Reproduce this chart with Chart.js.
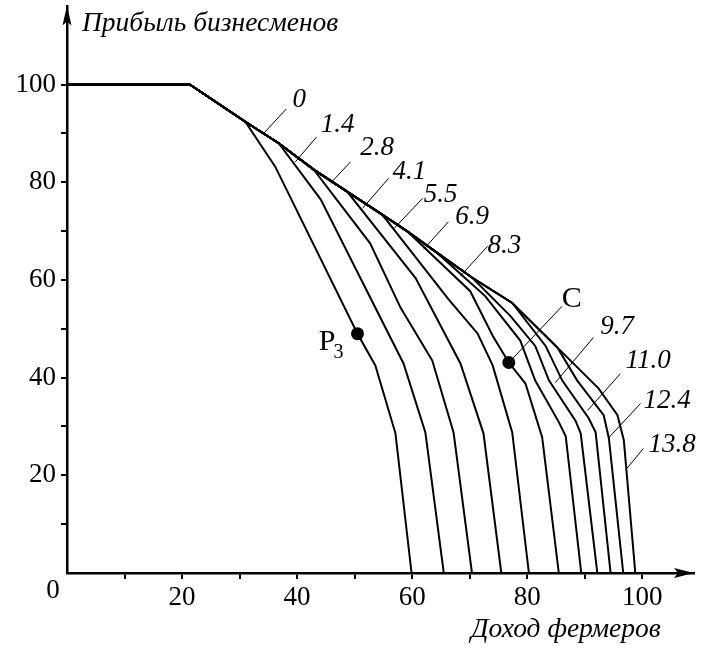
<!DOCTYPE html>
<html>
<head>
<meta charset="utf-8">
<script src="https://cdn.jsdelivr.net/npm/chart.js@4.4.1/dist/chart.umd.min.js"></script>
<style>
  html, body { margin: 0; padding: 0; background: #fff; }
</style>
</head>
<body>
<canvas id="chartPareto" width="702" height="648"></canvas>
<script>
// parameter value of each curve (label text)
const subsidies = ['0', '1.4', '2.8', '4.1', '5.5', '6.9', '8.3', '9.7', '11.0', '12.4', '13.8'];

// common upper boundary shared by all curves (farmers income, businessmen profit)
const ridgeX = [0, 21.4, 31.0, 36.8, 42.9, 48.7, 54.8, 59.1, 64.3, 70.4, 77.4, 85.3];
const ridgeY = [100, 100, 92.4, 88.0, 82.6, 78.1, 73.4, 70.0, 65.6, 60.5, 55.3, 46.1];
// index of the ridge point where each curve leaves it
const branchAt = [2, 3, 4, 5, 6, 7, 8, 9, 10, 11, 11];

// the part of each curve after it leaves the ridge
const tail00 = [[36.2, 83.2], [50.5, 49.0], [53.6, 42.5], [57.1, 28.6], [59.9, 0]];
const tail14 = [[44.1, 76.5], [51.0, 60.4], [58.5, 42.9], [62.3, 28.8], [65.5, 0]];
const tail28 = [[52.7, 67.5], [58.0, 54.3], [63.5, 43.5], [67.2, 28.8], [70.4, 0]];
const tail41 = [[60.6, 60.4], [68.4, 42.9], [72.4, 28.6], [75.5, 0]];
const tail55 = [[66.3, 56.1], [71.4, 49.0], [74.0, 42.5], [77.4, 28.8], [80.3, 0]];
const tail69 = [[70.1, 57.7], [74.0, 48.6], [76.8, 43.1], [79.7, 38.8], [82.6, 27.8], [85.5, 0]];
const tail83 = [[72.7, 56.7], [78.8, 47.6], [81.4, 39.4], [85.5, 30.9], [86.7, 28.0], [89.4, 0]];
const tail97 = [[77.1, 52.6], [81.4, 46.5], [83.8, 39.4], [88.4, 31.2], [89.3, 28.6], [92.2, 0]];
const tail110 = [[83.2, 46.5], [86.1, 39.4], [90.7, 31.7], [91.9, 28.8], [94.5, 0]];
const tail124 = [[88.7, 39.4], [93.3, 32.3], [94.2, 27.6], [96.7, 0]];
const tail138 = [[92.4, 37.8], [95.7, 32.3], [96.8, 27.2], [98.8, 0]];
const tails = [tail00, tail14, tail28, tail41, tail55, tail69, tail83, tail97, tail110, tail124, tail138];

// marked points
const pointP3 = [50.5, 49.0];
const pointC = [76.8, 43.1];

// axis ticks
const xTickValues = [10, 20, 30, 40, 50, 60, 70, 80, 90, 100];
const yTickValues = [10, 20, 30, 40, 50, 60, 70, 80, 90, 100];

// label placement for each curve: text, leader start, leader end (data units)
const callouts = [
  { at: [39.2, 96.9], from: [38.1, 95.0], to: [34.1, 89.9] },
  { at: [44.1, 91.8], from: [43.4, 89.3], to: [39.7, 84.2] },
  { at: [51.0, 87.1], from: [49.3, 84.2], to: [45.8, 79.8] },
  { at: [56.6, 82.2], from: [55.9, 80.8], to: [51.4, 74.7] },
  { at: [62.0, 77.5], from: [61.8, 76.7], to: [56.9, 70.6] },
  { at: [67.5, 73.0], from: [66.3, 71.9], to: [62.0, 66.3] },
  { at: [73.1, 66.9], from: [73.1, 66.9], to: [68.4, 60.8] },
  { at: [92.7, 50.4], from: [91.5, 48.2], to: [84.9, 39.0] },
  { at: [97.1, 43.5], from: [96.2, 40.8], to: [90.5, 33.3] },
  { at: [100.2, 35.3], from: [99.7, 34.7], to: [94.1, 27.6] },
  { at: [101.1, 26.2], from: [100.2, 25.5], to: [97.4, 21.5] }
];

const serif = '"Liberation Serif", "Times New Roman", serif';

function buildCurve(i) {
  const pts = [];
  for (let k = 0; k <= branchAt[i]; k++) pts.push({ x: ridgeX[k], y: ridgeY[k] });
  tails[i].forEach(p => pts.push({ x: p[0], y: p[1] }));
  return pts;
}

const curveSets = subsidies.map((s, i) => ({
  label: s,
  data: buildCurve(i),
  showLine: true,
  borderColor: '#000',
  borderWidth: 2,
  pointRadius: 0,
  tension: 0,
  fill: false
}));

const dotSet = {
  label: 'points',
  data: [{ x: pointP3[0], y: pointP3[1] }, { x: pointC[0], y: pointC[1] }],
  showLine: false,
  pointRadius: 6.5,
  pointBackgroundColor: '#000',
  pointBorderWidth: 0
};

const tickColor = ctx => (ctx.tick && ctx.tick.value > 0 && ctx.tick.value <= 100) ? '#000' : 'rgba(0,0,0,0)';

const extras = {
  id: 'extras',
  afterDatasetsDraw(chart) {
    const c = chart.ctx;
    const xs = chart.scales.x, ys = chart.scales.y;
    const area = chart.chartArea;
    const ox = xs.getPixelForValue(0), oy = ys.getPixelForValue(0);
    c.save();
    c.fillStyle = '#000';
    c.strokeStyle = '#000';

    // arrow heads
    const top = area.top - 1;
    c.beginPath();
    c.moveTo(ox, top);
    c.lineTo(ox - 4.5, top + 20);
    c.lineTo(ox, top + 16);
    c.lineTo(ox + 4.5, top + 20);
    c.closePath();
    c.fill();
    const right = area.right;
    c.beginPath();
    c.moveTo(right, oy);
    c.lineTo(right - 20, oy - 5);
    c.lineTo(right - 16, oy);
    c.lineTo(right - 20, oy + 5);
    c.closePath();
    c.fill();

    // origin label and axis titles
    c.font = '27px ' + serif;
    c.textAlign = 'center';
    c.textBaseline = 'middle';
    c.fillText('0', ox - 14, oy + 18);
    c.font = 'italic 27.5px ' + serif;
    c.textAlign = 'left';
    c.fillText('Прибыль бизнесменов', ox + 15, 24);
    c.fillText('Доход фермеров', 471, 630);

    // curve labels with leader lines
    c.font = 'italic 27px ' + serif;
    c.lineWidth = 1;
    callouts.forEach((o, i) => {
      c.beginPath();
      c.moveTo(xs.getPixelForValue(o.from[0]), ys.getPixelForValue(o.from[1]));
      c.lineTo(xs.getPixelForValue(o.to[0]), ys.getPixelForValue(o.to[1]));
      c.stroke();
      c.fillText(subsidies[i], xs.getPixelForValue(o.at[0]), ys.getPixelForValue(o.at[1]));
    });

    // P3 and C
    const px = xs.getPixelForValue(pointP3[0]), py = ys.getPixelForValue(pointP3[1]);
    c.font = '30px ' + serif;
    c.textAlign = 'right';
    c.fillText('P', px - 22, py + 8);
    c.font = '20px ' + serif;
    c.textAlign = 'left';
    c.fillText('3', px - 24, py + 19);

    const cx = xs.getPixelForValue(pointC[0]), cy = ys.getPixelForValue(pointC[1]);
    c.beginPath();
    c.moveTo(cx + 2, cy - 2);
    c.lineTo(cx + 53, cy - 56);
    c.stroke();
    c.font = '30px ' + serif;
    c.fillText('C', cx + 53, cy - 63);
    c.restore();
  }
};

new Chart(document.getElementById('chartPareto').getContext('2d'), {
  type: 'scatter',
  data: { datasets: curveSets.concat([dotSet]) },
  options: {
    responsive: false,
    animation: false,
    layout: { padding: { top: 4, right: 8, left: 0, bottom: 0 } },
    plugins: { legend: { display: false }, tooltip: { enabled: false } },
    scales: {
      x: {
        type: 'linear',
        min: 0,
        max: 109,
        afterFit: scale => { scale.height = 75; scale.paddingLeft = 0; scale.paddingRight = 0; },
        afterBuildTicks: scale => { scale.ticks = [0].concat(xTickValues).map(v => ({ value: v })); },
        border: { color: '#000', width: 2.5 },
        grid: { drawOnChartArea: false, tickLength: 6, color: tickColor, lineWidth: 2 },
        ticks: {
          autoSkip: false,
          maxRotation: 0,
          padding: 3,
          color: '#000',
          font: { family: serif, size: 27 },
          callback: v => (v > 0 && v % 20 === 0) ? String(v) : ''
        }
      },
      y: {
        type: 'linear',
        min: 0,
        max: 116,
        afterFit: scale => { scale.width = 67; scale.paddingTop = 0; scale.paddingBottom = 0; },
        afterBuildTicks: scale => { scale.ticks = [0].concat(yTickValues).map(v => ({ value: v })); },
        border: { color: '#000', width: 2.5 },
        grid: { drawOnChartArea: false, tickLength: 6, color: tickColor, lineWidth: 2 },
        ticks: {
          autoSkip: false,
          padding: 5,
          color: '#000',
          font: { family: serif, size: 27 },
          callback: v => (v > 0 && v % 20 === 0) ? String(v) : ''
        }
      }
    }
  },
  plugins: [extras]
});
</script>
</body>
</html>
